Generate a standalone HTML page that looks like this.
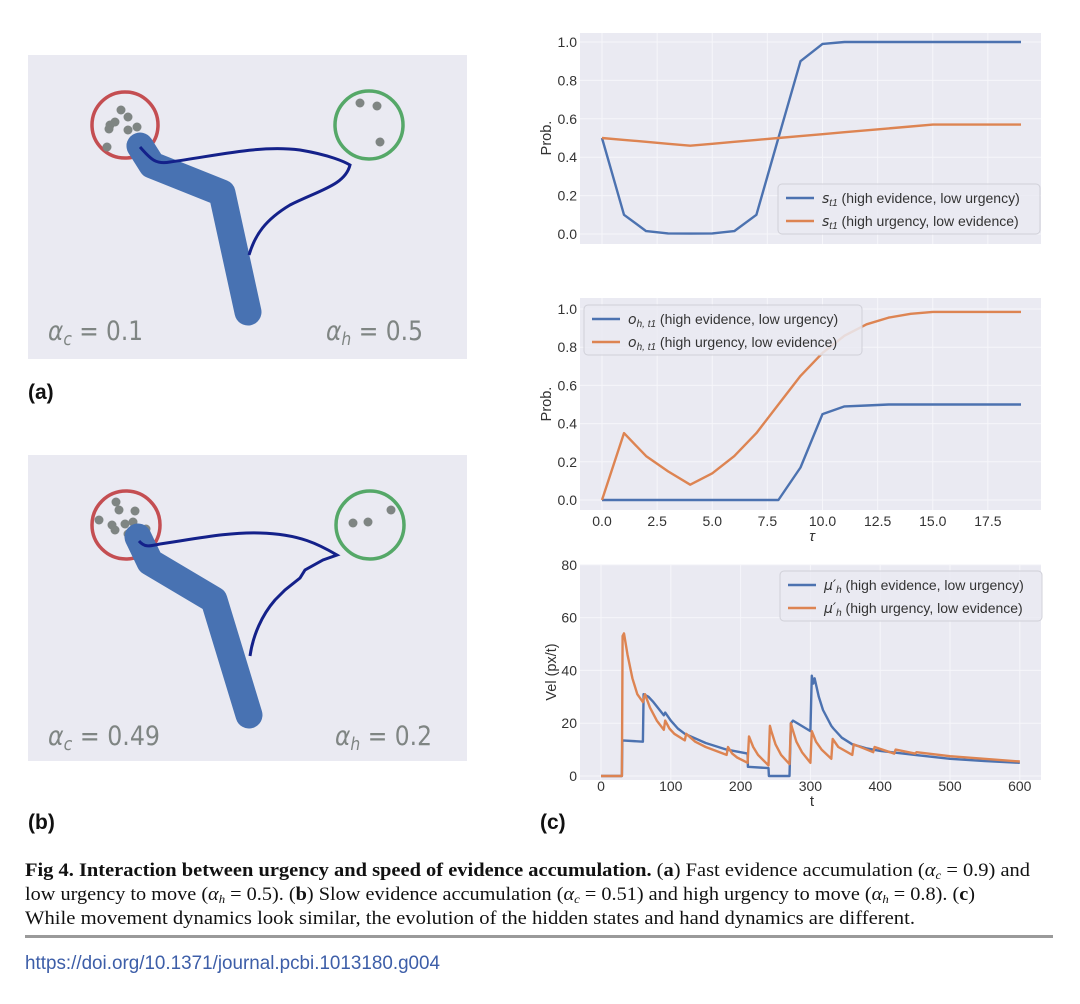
<!DOCTYPE html>
<html><head><meta charset="utf-8"><style>
html,body{margin:0;padding:0;background:#fff;}
svg{display:block;font-family:"Liberation Sans",sans-serif;}
</style></head><body>
<svg id="fig" width="1080" height="1004" viewBox="0 0 1080 1004" xmlns="http://www.w3.org/2000/svg">
<!-- Panel a -->
<g>
<rect x="28" y="55" width="439" height="304" fill="#eaeaf2"/>
<circle cx="125" cy="125" r="33" fill="none" stroke="#c44e52" stroke-width="3.5"/>
<circle cx="369" cy="125" r="34" fill="none" stroke="#55a868" stroke-width="3.5"/>
<g fill="#7f8583">
<circle cx="121" cy="110" r="4.5"/><circle cx="128" cy="117" r="4.5"/><circle cx="110" cy="125" r="4.5"/><circle cx="115" cy="122" r="4.5"/><circle cx="109" cy="129" r="4.5"/><circle cx="128" cy="130" r="4.5"/><circle cx="137" cy="127" r="4.5"/><circle cx="107" cy="147" r="4.5"/><circle cx="131" cy="145" r="4.5"/></g>
<g fill="#7f8583"><circle cx="360" cy="103" r="4.5"/><circle cx="377" cy="106" r="4.5"/><circle cx="380" cy="142" r="4.5"/></g>
<polyline points="140,146 152,165 222,193 248,312" fill="none" stroke="#4872b2" stroke-width="27" stroke-linecap="round" stroke-linejoin="round"/>
<path d="M140,147 C150,158 155,165 170,162 C220,155 260,145 300,150 C330,155 345,162 350,165 C345,185 320,190 290,205 C265,220 255,235 249,255" fill="none" stroke="#14218a" stroke-width="3"/>
<text x="48" y="340" font-size="27" fill="#7f8583" font-family="'DejaVu Sans',sans-serif" textLength="95" lengthAdjust="spacingAndGlyphs"><tspan font-style="italic">α</tspan><tspan font-size="18" dy="5" font-style="italic">c</tspan><tspan dy="-5"> = 0.1</tspan></text>
<text x="326" y="340" font-size="27" fill="#7f8583" font-family="'DejaVu Sans',sans-serif" textLength="97" lengthAdjust="spacingAndGlyphs"><tspan font-style="italic">α</tspan><tspan font-size="18" dy="5" font-style="italic">h</tspan><tspan dy="-5"> = 0.5</tspan></text>
</g>
<text x="28" y="399" font-size="21" font-weight="bold" fill="#111">(a)</text>
<!-- Panel b -->
<g>
<rect x="28" y="455" width="439" height="306" fill="#eaeaf2"/>
<circle cx="126" cy="525" r="34" fill="none" stroke="#c44e52" stroke-width="3.5"/>
<circle cx="370" cy="525" r="34" fill="none" stroke="#55a868" stroke-width="3.5"/>
<g fill="#7f8583">
<circle cx="116" cy="502" r="4.5"/><circle cx="119" cy="510" r="4.5"/><circle cx="135" cy="511" r="4.5"/><circle cx="99" cy="520" r="4.5"/><circle cx="112" cy="525" r="4.5"/><circle cx="115" cy="530" r="4.5"/><circle cx="125" cy="524" r="4.5"/><circle cx="133" cy="522" r="4.5"/><circle cx="146" cy="529" r="4.5"/><circle cx="128" cy="534" r="4.5"/></g>
<g fill="#7f8583"><circle cx="353" cy="523" r="4.5"/><circle cx="368" cy="522" r="4.5"/><circle cx="391" cy="510" r="4.5"/></g>
<polyline points="138,537 150,562 214,600 249,715" fill="none" stroke="#4872b2" stroke-width="27" stroke-linecap="round" stroke-linejoin="round"/>
<path d="M139,541 C145,548 150,546 160,544 C200,538 230,532 260,533 C300,534 320,545 337,555 L323,560 L305,570 L300,578 L285,590 L275,600 C262,615 253,635 250,656" fill="none" stroke="#14218a" stroke-width="3"/>
<text x="48" y="745" font-size="27" fill="#7f8583" font-family="'DejaVu Sans',sans-serif" textLength="112" lengthAdjust="spacingAndGlyphs"><tspan font-style="italic">α</tspan><tspan font-size="18" dy="5" font-style="italic">c</tspan><tspan dy="-5"> = 0.49</tspan></text>
<text x="335" y="745" font-size="27" fill="#7f8583" font-family="'DejaVu Sans',sans-serif" textLength="97" lengthAdjust="spacingAndGlyphs"><tspan font-style="italic">α</tspan><tspan font-size="18" dy="5" font-style="italic">h</tspan><tspan dy="-5"> = 0.2</tspan></text>
</g>
<text x="28" y="829" font-size="21" font-weight="bold" fill="#111">(b)</text>
<text x="540" y="829" font-size="21" font-weight="bold" fill="#111">(c)</text>
<g id="charts"></g>
<!-- caption -->
<g font-family="'Liberation Serif',serif" font-size="19" fill="#111">
<text x="25" y="876" textLength="1005" lengthAdjust="spacingAndGlyphs"><tspan font-weight="bold">Fig 4. Interaction between urgency and speed of evidence accumulation.</tspan> (<tspan font-weight="bold">a</tspan>) Fast evidence accumulation (<tspan font-style="italic">α</tspan><tspan font-size="12" dy="3" font-style="italic">c</tspan><tspan dy="-3"> = 0.9) and</tspan></text>
<text x="25" y="900" textLength="950" lengthAdjust="spacingAndGlyphs">low urgency to move (<tspan font-style="italic">α</tspan><tspan font-size="12" dy="3" font-style="italic">h</tspan><tspan dy="-3"> = 0.5). (</tspan><tspan font-weight="bold">b</tspan>) Slow evidence accumulation (<tspan font-style="italic">α</tspan><tspan font-size="12" dy="3" font-style="italic">c</tspan><tspan dy="-3"> = 0.51) and high urgency to move (</tspan><tspan font-style="italic">α</tspan><tspan font-size="12" dy="3" font-style="italic">h</tspan><tspan dy="-3"> = 0.8). (</tspan><tspan font-weight="bold">c</tspan>)</text>
<text x="25" y="924" textLength="890" lengthAdjust="spacingAndGlyphs">While movement dynamics look similar, the evolution of the hidden states and hand dynamics are different.</text>
</g>
<rect x="25" y="935" width="1028" height="3" fill="#9a9a9a"/>
<text x="25" y="969" font-size="19" fill="#3d5ea8" textLength="415" lengthAdjust="spacingAndGlyphs">https://doi.org/10.1371/journal.pcbi.1013180.g004</text>
</svg>
<script>
// ---- chart data ----
const tauValues = [0,1,2,3,4,5,6,7,8,9,10,11,12,13,14,15,16,17,18,19];
const stateHighEvidence = [0.5,0.1,0.015,0.003,0.002,0.003,0.015,0.1,0.5,0.9,0.99,1,1,1,1,1,1,1,1,1];
const stateHighUrgency = [0.5,0.49,0.48,0.47,0.46,0.47,0.48,0.49,0.5,0.51,0.52,0.53,0.54,0.55,0.56,0.57,0.57,0.57,0.57,0.57];
const obsHighEvidence = [0,0,0,0,0,0,0,0,0,0.17,0.45,0.49,0.495,0.5,0.5,0.5,0.5,0.5,0.5,0.5];
const obsHighUrgency = [0,0.35,0.23,0.15,0.08,0.14,0.23,0.35,0.5,0.65,0.77,0.86,0.92,0.955,0.975,0.985,0.985,0.985,0.985,0.985];
const probTicks = [0.0,0.2,0.4,0.6,0.8,1.0];
const tauTicks = [0,2.5,5,7.5,10,12.5,15,17.5];
const velTimeBlue = [0,30,30.5,60,61,68,75,90,92,100,110,120,150,180,210,210.5,240,240.5,270,272,275,300,302,304,306,312,318,330,333,345,360,380,400,450,500,550,600];
const velBlue = [0,0,13.5,13,31,30,28,23,24,21,18,16,12.5,10,8.5,3.5,3,0,0,20,21,17,38,35,37,30,25,19,18,14.5,12,10.5,9.5,8,6.5,5.7,5];
const velTimeOrange = [0,30,31,33,38,45,52,60,63,70,80,90,92,98,105,120,122,135,150,180,182,188,195,210,212,218,225,240,242,244,250,258,270,272,274,280,288,300,302,308,316,330,332,340,360,362,390,392,420,422,450,452,500,600];
const velOrange = [0,0,53,54,46,37,31,28,31,26,21,17.5,21,18,16,13.5,16,13,11,8,11,8.5,7,5,15,11,8,4,19,17,12,8,4.5,20,18,13,9,5,17,13,10,6.5,14,11,8,12,9,11,8.5,10,8.5,9,7.5,5.5];
const velTicks = [0,20,40,60,80];
const timeTicks = [0,100,200,300,400,500,600];

const NS = "http://www.w3.org/2000/svg";
const root = document.getElementById('charts');
function mk(tag, attrs, parent){const e=document.createElementNS(NS,tag);for(const k in attrs)e.setAttribute(k,attrs[k]);(parent||root).appendChild(e);return e;}
const BLUE="#4c72b0", ORANGE="#dd8452";
const xTau = v => 602 + v*22.05;
const xT = v => 601 + v*0.698;

function axesBox(y0,y1,name){
  const r = mk('rect',{x:580,y:y0,width:461,height:y1-y0,fill:'#eaeaf2'});
  
  
}
function yTicks(ticks, Y, fmt){
  ticks.forEach(v=>{
    const g = mk('line',{x1:580,x2:1041,y1:Y(v),y2:Y(v),stroke:'#f6f6fa','stroke-width':1});
    
    
    const t = mk('text',{x:577,y:Y(v)+5,'text-anchor':'end','font-size':14,fill:'#333'});
    t.textContent = fmt(v);
    
    
  });
}
function xGrid(ticks, X, y0, y1, labelY){
  ticks.forEach(v=>{
    const g = mk('line',{x1:X(v),x2:X(v),y1:y0,y2:y1,stroke:'#f6f6fa','stroke-width':1});
    
    
    if(labelY){
      const t = mk('text',{x:X(v),y:labelY,'text-anchor':'middle','font-size':14,fill:'#333'});
      t.textContent = (ticks===tauTicks)? v.toFixed(1) : String(v);
      
      
    }
  });
}
function series(xs, ys, X, Y, color, name){
  const pts = xs.map((x,i)=>X(x).toFixed(1)+','+Y(ys[i]).toFixed(1)).join(' ');
  const p = mk('polyline',{points:pts,fill:'none',stroke:color,'stroke-width':2.4,'stroke-linejoin':'round'});
  
  
}
function yLabel(txt, x, y){
  const t = mk('text',{x:x,y:y,'text-anchor':'middle','font-size':14.5,fill:'#333',transform:`rotate(-90 ${x} ${y})`});
  t.textContent = txt;
  
  
}
function legend(x,y,w,entries){
  const b = mk('rect',{x:x,y:y,width:w,height:50,rx:4,fill:'#eaeaf2',stroke:'#d0d0d8','stroke-width':1,'fill-opacity':0.85});
  
  
  entries.forEach((e,i)=>{
    const yy = y+14+i*23;
    const l = mk('line',{x1:x+8,x2:x+36,y1:yy,y2:yy,stroke:e.color,'stroke-width':2.4});
    
    
    const t = mk('text',{x:x+44,y:yy+5,'font-size':14,fill:'#333'});
    t.innerHTML = e.html;
    
    
  });
}

// top chart
const Y1 = v => 234 - v*192;
axesBox(33,244,'state-chart-background');
yTicks(probTicks, Y1, v=>v.toFixed(1));
xGrid(tauTicks, xTau, 33, 244, null);
series(tauValues, stateHighEvidence, xTau, Y1, BLUE, 'state-high-evidence-line');
series(tauValues, stateHighUrgency, xTau, Y1, ORANGE, 'state-high-urgency-line');
yLabel('Prob.', 551, 138);
legend(778,184,262,[
 {color:BLUE, html:'<tspan font-style="italic" font-family="DejaVu Sans">s</tspan><tspan font-size="10" dy="3" font-style="italic">t1</tspan><tspan dy="-3"> (high evidence, low urgency)</tspan>'},
 {color:ORANGE, html:'<tspan font-style="italic" font-family="DejaVu Sans">s</tspan><tspan font-size="10" dy="3" font-style="italic">t1</tspan><tspan dy="-3"> (high urgency, low evidence)</tspan>'}]);

// middle chart
const Y2 = v => 500 - v*191;
axesBox(298,510,'obs-chart-background');
yTicks(probTicks, Y2, v=>v.toFixed(1));
xGrid(tauTicks, xTau, 298, 510, 526);
series(tauValues, obsHighEvidence, xTau, Y2, BLUE, 'obs-high-evidence-line');
series(tauValues, obsHighUrgency, xTau, Y2, ORANGE, 'obs-high-urgency-line');
yLabel('Prob.', 551, 404);
legend(584,305,278,[
 {color:BLUE, html:'<tspan font-style="italic" font-family="DejaVu Sans">o</tspan><tspan font-size="10" dy="3" font-style="italic">h, t1</tspan><tspan dy="-3"> (high evidence, low urgency)</tspan>'},
 {color:ORANGE, html:'<tspan font-style="italic" font-family="DejaVu Sans">o</tspan><tspan font-size="10" dy="3" font-style="italic">h, t1</tspan><tspan dy="-3"> (high urgency, low evidence)</tspan>'}]);
{const t = mk('text',{x:812,y:541,'text-anchor':'middle','font-size':15,'font-style':'italic',fill:'#333'}); t.textContent='τ';

}

// bottom chart
const Y3 = v => 776 - v*2.64;
axesBox(565,780,'velocity-chart-background');
yTicks(velTicks, Y3, v=>String(v));
xGrid(timeTicks, xT, 565, 780, 791);
series(velTimeBlue, velBlue, xT, Y3, BLUE, 'velocity-high-evidence-line');
series(velTimeOrange, velOrange, xT, Y3, ORANGE, 'velocity-high-urgency-line');
yLabel('Vel (px/t)', 556, 672);
legend(780,571,262,[
 {color:BLUE, html:'<tspan font-style="italic" font-family="DejaVu Sans">μ′</tspan><tspan font-size="10" dy="3" font-style="italic">h</tspan><tspan dy="-3"> (high evidence, low urgency)</tspan>'},
 {color:ORANGE, html:'<tspan font-style="italic" font-family="DejaVu Sans">μ′</tspan><tspan font-size="10" dy="3" font-style="italic">h</tspan><tspan dy="-3"> (high urgency, low evidence)</tspan>'}]);
{const t = mk('text',{x:812,y:806,'text-anchor':'middle','font-size':15,fill:'#333'}); t.textContent='t';

}
</script>
</body></html>
